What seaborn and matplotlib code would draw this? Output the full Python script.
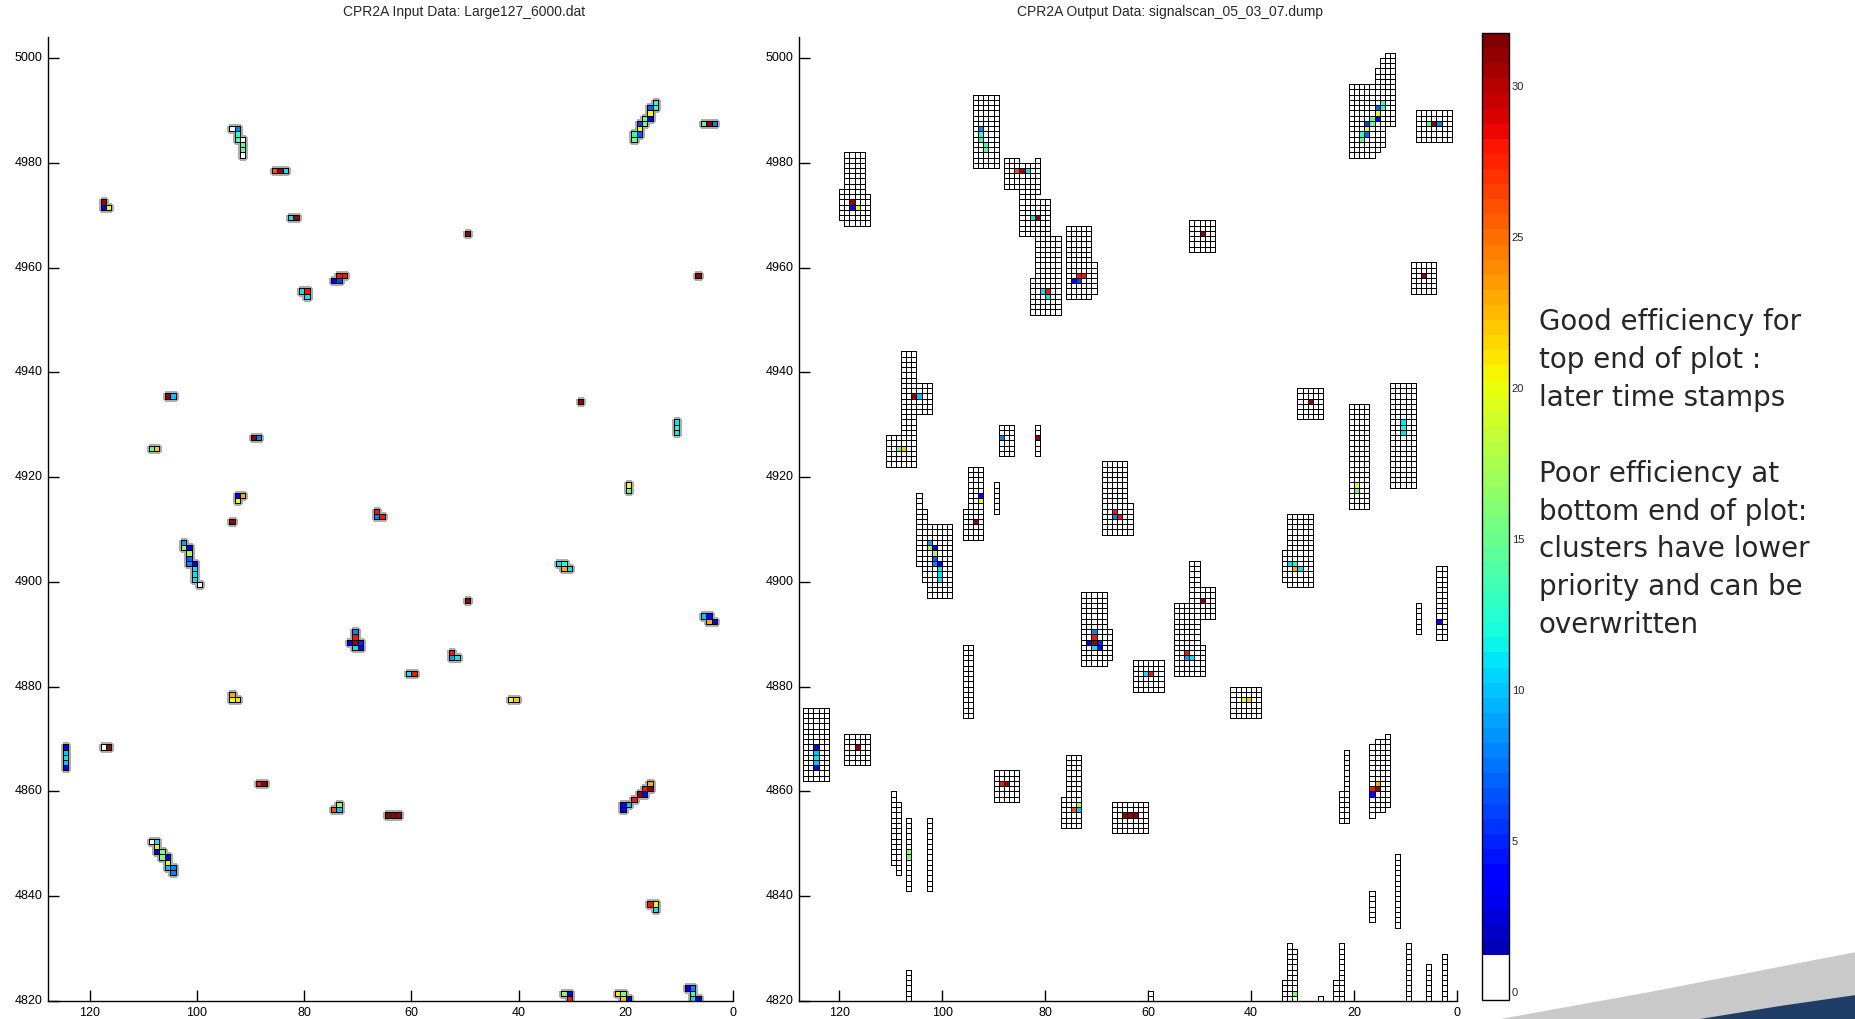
import numpy as np
import pandas as pd
import matplotlib.pyplot as plt
import seaborn as sns
from matplotlib.colors import ListedColormap
from matplotlib.patches import Polygon

sns.set_style('white')
plt.rcParams['font.family'] = ['Liberation Sans', 'DejaVu Sans']

# input hits: (column, row, time stamp)
input_hits = [
    (14, 4991, 13), (15, 4990, 7), (14, 4990, 13), (15, 4989, 20), (16, 4988, 15), (15, 4988, 4),
    (17, 4987, 6), (16, 4987, 15), (17, 4986, 20), (18, 4985, 13), (17, 4985, 7), (18, 4984, 15),
    (5, 4987, 15), (4, 4987, 31), (3, 4987, 8),
    (93, 4986, 0), (92, 4986, 8), (92, 4985, 13), (92, 4984, 13), (91, 4984, 0), (91, 4983, 14),
    (91, 4982, 15), (91, 4981, 0),
    (85, 4978, 26), (84, 4978, 31), (83, 4978, 11),
    (117, 4972, 31), (117, 4971, 4), (116, 4971, 20),
    (82, 4969, 11), (81, 4969, 31),
    (49, 4966, 31),
    (6, 4958, 31),
    (74, 4957, 3), (73, 4957, 6), (73, 4958, 28), (72, 4958, 28),
    (80, 4955, 11), (79, 4955, 28), (79, 4954, 11),
    (105, 4935, 31), (104, 4935, 10),
    (28, 4934, 31),
    (10, 4930, 11), (10, 4929, 12), (10, 4928, 11),
    (108, 4925, 15), (107, 4925, 22),
    (89, 4927, 31), (88, 4927, 8),
    (19, 4918, 20), (19, 4917, 15),
    (92, 4916, 4), (91, 4916, 23), (92, 4915, 20),
    (66, 4913, 28), (66, 4912, 8), (65, 4912, 28),
    (93, 4911, 31),
    (102, 4907, 9), (102, 4906, 17), (101, 4906, 3), (101, 4905, 17), (101, 4904, 7), (101, 4903, 8),
    (100, 4903, 3), (100, 4902, 11), (100, 4901, 11), (100, 4900, 11), (99, 4899, 0),
    (32, 4903, 11), (31, 4903, 12), (31, 4902, 23), (30, 4902, 11),
    (49, 4896, 31),
    (5, 4893, 10), (4, 4893, 4), (4, 4892, 23), (3, 4892, 4),
    (70, 4890, 8), (70, 4889, 28), (71, 4888, 3), (70, 4888, 31), (69, 4888, 5), (70, 4887, 11), (69, 4887, 4),
    (52, 4886, 28), (52, 4885, 9), (51, 4885, 11),
    (60, 4882, 11), (59, 4882, 28),
    (41, 4877, 20), (40, 4877, 22),
    (93, 4878, 23), (93, 4877, 20), (92, 4877, 21),
    (124, 4868, 3), (124, 4867, 10), (124, 4866, 11), (124, 4865, 10), (124, 4864, 3),
    (117, 4868, 0), (116, 4868, 31),
    (88, 4861, 28), (87, 4861, 31),
    (15, 4861, 23), (16, 4860, 28), (15, 4860, 31), (17, 4859, 31), (16, 4859, 4), (18, 4858, 28),
    (19, 4857, 10), (20, 4857, 4), (20, 4856, 3),
    (73, 4857, 17), (74, 4856, 26), (73, 4856, 10),
    (64, 4855, 31), (63, 4855, 31), (62, 4855, 31),
    (108, 4850, 0), (107, 4850, 11), (107, 4849, 19), (107, 4848, 3), (106, 4848, 16), (106, 4847, 16),
    (105, 4847, 3), (105, 4846, 20), (105, 4845, 10), (104, 4845, 8), (104, 4844, 8),
    (15, 4838, 28), (14, 4838, 20), (14, 4837, 11),
    (31, 4821, 16), (30, 4821, 3), (30, 4820, 28),
    (21, 4821, 21), (20, 4821, 16), (20, 4820, 22), (19, 4820, 3),
    (8, 4822, 3), (7, 4822, 8), (7, 4821, 13), (7, 4820, 11), (6, 4820, 3),
]

# hits that only appear in the output dump
extra_out = [(81, 4927, 31)]

# readout windows of the output: (col lo, col hi, row lo, row hi)
windows = [
    (115, 118, 4975, 4981), (115, 118, 4968, 4974), (119, 119, 4969, 4974), (114, 114, 4968, 4973),
    (89, 93, 4979, 4992),
    (85, 87, 4975, 4980), (82, 84, 4966, 4979), (81, 81, 4974, 4980), (79, 81, 4966, 4972),
    (77, 81, 4951, 4965), (82, 82, 4951, 4957),
    (71, 75, 4954, 4967), (70, 70, 4955, 4960),
    (47, 51, 4963, 4968),
    (16, 20, 4981, 4994), (15, 15, 4982, 4997), (14, 14, 4983, 4999), (12, 13, 4987, 5000),
    (1, 7, 4984, 4989), (4, 8, 4955, 4960),
    (105, 107, 4928, 4943), (102, 104, 4932, 4937), (105, 110, 4922, 4927),
    (86, 88, 4924, 4929), (81, 81, 4924, 4929),
    (92, 94, 4908, 4921), (95, 95, 4908, 4913), (89, 89, 4913, 4918),
    (104, 104, 4903, 4916), (103, 103, 4900, 4913), (98, 102, 4897, 4910),
    (64, 68, 4909, 4922), (63, 63, 4909, 4914),
    (68, 72, 4884, 4897), (67, 67, 4885, 4890),
    (50, 51, 4896, 4903), (47, 49, 4893, 4898), (50, 54, 4882, 4895), (49, 49, 4882, 4887),
    (28, 32, 4899, 4912), (33, 33, 4900, 4905),
    (26, 30, 4931, 4936), (8, 12, 4918, 4937), (17, 20, 4914, 4933),
    (2, 3, 4889, 4902), (7, 7, 4890, 4895),
    (122, 126, 4862, 4875), (114, 118, 4865, 4870), (94, 95, 4874, 4887),
    (109, 109, 4846, 4859), (108, 108, 4844, 4857), (106, 106, 4841, 4854), (102, 102, 4841, 4854),
    (85, 89, 4858, 4863), (73, 75, 4853, 4866), (76, 76, 4853, 4858),
    (60, 66, 4852, 4857), (38, 43, 4874, 4879), (57, 62, 4879, 4884),
    (22, 22, 4854, 4859), (21, 21, 4854, 4867), (16, 16, 4855, 4868), (14, 15, 4856, 4869), (13, 13, 4857, 4870),
    (11, 11, 4834, 4847), (16, 16, 4835, 4840),
    (32, 32, 4820, 4830), (31, 31, 4820, 4829), (33, 33, 4820, 4823), (26, 26, 4820, 4820),
    (22, 22, 4820, 4830), (23, 23, 4820, 4823), (9, 9, 4820, 4830), (5, 5, 4820, 4826),
    (2, 2, 4820, 4828), (59, 59, 4820, 4821), (106, 106, 4820, 4825),
]

x_ticks = [120, 100, 80, 60, 40, 20, 0]
y_ticks = [5000, 4980, 4960, 4940, 4920, 4900, 4880, 4860, 4840, 4820]
cbar_ticks = [0, 5, 10, 15, 20, 25, 30]

x_values = np.arange(127, -1, -1)
y_values = np.arange(5003, 4819, -1)

grid_in = pd.DataFrame(np.nan, index=y_values, columns=x_values)
for x, y, t in input_hits:
    grid_in.loc[y, x] = t

grid_out = pd.DataFrame(np.nan, index=y_values, columns=x_values)
for x0, x1, y0, y1 in windows:
    grid_out.loc[y1:y0, x1:x0] = 0
for x, y, t in input_hits:
    if grid_out.loc[y, x] == 0:
        grid_out.loc[y, x] = t
for x, y, t in extra_out:
    grid_out.loc[y, x] = t

# jet with the lowest bins white
colors = plt.get_cmap('jet', 64)(np.arange(64))
colors[:3] = [1, 1, 1, 1]
cmap = ListedColormap(colors)
vmin, vmax = -0.26, 31.75


def outline_cells(mesh, grid, color):
    # edges only around cells that hold data
    filled = ~grid.isna().to_numpy().ravel()
    edge = np.zeros((filled.size, 4))
    edge[filled] = color
    mesh.set_edgecolor(edge)


fig = plt.figure(figsize=(18.56, 10.19), dpi=100)
ax1 = fig.add_axes([0.02586, 0.01766, 0.36907, 0.94602])
ax2 = fig.add_axes([0.43050, 0.01766, 0.35453, 0.94602])
cax = fig.add_axes([0.79849, 0.01865, 0.01455, 0.94897])

# soft grey halo under the input hits, then the hits themselves
sns.heatmap(grid_in, ax=ax1, cmap=cmap, vmin=vmin, vmax=vmax, mask=grid_in.isna(),
            cbar=False, linewidths=2.2, linecolor='grey')
outline_cells(ax1.collections[0], grid_in, [0.68, 0.68, 0.68, 1])
sns.heatmap(grid_in, ax=ax1, cmap=cmap, vmin=vmin, vmax=vmax, mask=grid_in.isna(),
            cbar=False, linewidths=0.7, linecolor='black')
outline_cells(ax1.collections[1], grid_in, [0, 0, 0, 1])

sns.heatmap(grid_out, ax=ax2, cmap=cmap, vmin=vmin, vmax=vmax, mask=grid_out.isna(),
            cbar=True, cbar_ax=cax, linewidths=0.7, linecolor='black')
outline_cells(ax2.collections[0], grid_out, [0, 0, 0, 1])

for ax in (ax1, ax2):
    ax.set_xlim(0.2, 128)
    ax.set_ylim(184, 0)
    ax.set_xticks([128 - v for v in x_ticks])
    ax.set_xticklabels([str(v) for v in x_ticks], rotation=0)
    ax.set_yticks([5004 - v for v in y_ticks])
    ax.set_yticklabels([str(v) for v in y_ticks], rotation=0)
    ax.set_xlabel('')
    ax.set_ylabel('')
    ax.tick_params(direction='in', length=8, width=1, labelsize=9, bottom=True, left=True,
                   colors='black', pad=4)
    for side in ('left', 'bottom'):
        ax.spines[side].set_visible(True)
        ax.spines[side].set_color('black')
        ax.spines[side].set_linewidth(1)

cb = ax2.collections[0].colorbar
cb.set_ticks(cbar_ticks)
cb.outline.set_edgecolor('black')
cb.outline.set_linewidth(1)
cax.tick_params(direction='in', length=8, width=1, labelsize=8, left=True, right=True, pad=2)

fig.text(464 / 1856, 1 - 12 / 1019, 'CPR2A Input Data: Large127_6000.dat', ha='center', va='center', fontsize=10)
fig.text(1170 / 1856, 1 - 12 / 1019, 'CPR2A Output Data: signalscan_05_03_07.dump', ha='center', va='center', fontsize=10)

note = ('Good efficiency for\ntop end of plot :\nlater time stamps\n\n'
        'Poor efficiency at\nbottom end of plot:\nclusters have lower\npriority and can be\noverwritten')
fig.text(1539 / 1856, 1 - 308 / 1019, note, ha='left', va='top', fontsize=20,
         family='DejaVu Sans', linespacing=1.45)

# slide decoration bottom right
W, H = 1856, 1019
gray = [(1500, 1019), (1650, 992), (1856, 952), (1856, 1019)]
blue = [(1700, 1019), (1780, 1006), (1856, 995), (1856, 1019)]
fig.patches.append(Polygon([(x / W, 1 - y / H) for x, y in gray], closed=True,
                           transform=fig.transFigure, facecolor='#c9c9c9', edgecolor='none'))
fig.patches.append(Polygon([(x / W, 1 - y / H) for x, y in blue], closed=True,
                           transform=fig.transFigure, facecolor='#1f3d66', edgecolor='none'))

fig.savefig('out.png', dpi=100)
